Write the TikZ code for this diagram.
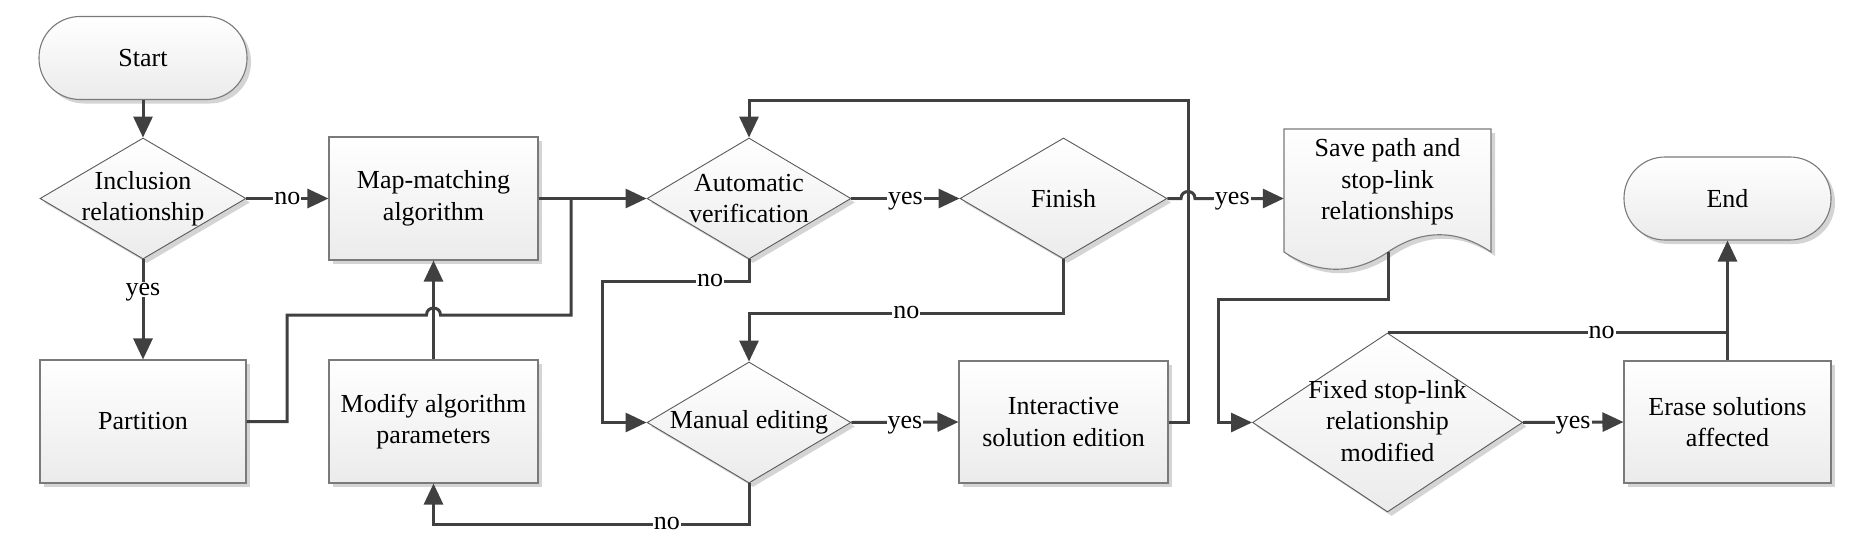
\documentclass[tikz,border=0pt]{standalone}
\usepackage{fontspec}
\setmainfont{Liberation Serif}
\usetikzlibrary{shapes.geometric,arrows.meta,shadows,calc}
\definecolor{lc}{HTML}{404040}
\definecolor{bc}{HTML}{7A7A7A}
\definecolor{dc}{HTML}{5A5A5A}
\definecolor{fillb}{HTML}{EBEBEB}
\definecolor{shc}{HTML}{D4D4D4}
\tikzset{
  conn/.style={draw=lc, line width=3pt},
  arr/.style={conn, -{Triangle[length=21pt,width=19pt]}},
  shd/.style={drop shadow={shadow xshift=4pt,shadow yshift=-4pt,fill=shc,opacity=1}},
  box/.style={rectangle, draw=bc, line width=1.1pt, top color=white, bottom color=fillb, shd, inner sep=0pt},
  term/.style={box, rounded corners=41pt},
  dec/.style={diamond, draw=dc, line width=0.9pt, top color=white, bottom color=fillb, shd, inner sep=0pt},
  txt/.style={align=center, font=\fontsize{26}{31.5}\selectfont, inner sep=0pt},
  lab/.style={fill=white, inner xsep=1pt, inner ysep=2pt, text height=11.5pt, text depth=0pt, font=\fontsize{26}{31.5}\selectfont},
}
\begin{document}
\begin{tikzpicture}[x=1pt,y=-1pt]
\useasboundingbox (0,0) rectangle (1849,551);
% shapes
\node[term, minimum width=208, minimum height=83] (start) at (143,58) {};
\node[txt] (starttxt) at (start) {Start};
\node[dec, minimum width=206, minimum height=121] (incl) at (143,198.5) {};
\node[txt] (incltxt) at (incl) {Inclusion\\relationship};
\node[box, minimum width=209, minimum height=123] (map) at (433.5,198.5) {};
\node[txt] (maptxt) at (map) {Map-matching\\algorithm};
\node[dec, minimum width=204, minimum height=121] (auto) at (749,198.5) {};
\node[txt] (autotxt) at (auto) {Automatic\\verification};
\node[dec, minimum width=207, minimum height=121] (finish) at (1063.5,198.5) {};
\node[txt] (finishtxt) at (finish) {Finish};
\path[draw=bc, line width=1.1pt, top color=white, bottom color=fillb, shd]
  (1284,129) -- (1491,129) -- (1491,252)
  .. controls (1457,229) and (1422,229) .. (1388,252)
  .. controls (1354,275) and (1318,275) .. (1284,252) -- cycle;
\node[minimum width=207, minimum height=123, inner sep=0pt] (save) at (1387.5,190.5) {};
\node[txt] (savetxt) at (1387.5,182) {Save path and\\stop-link\\relationships};
\coordinate (savebot) at (1388,252);
\node[term, minimum width=207, minimum height=83] (end) at (1727.5,198.5) {};
\node[txt] (endtxt) at (end) {End};
\node[box, minimum width=206, minimum height=123] (partition) at (143,421.5) {};
\node[txt] (parttxt) at (partition) {Partition};
\node[box, minimum width=209, minimum height=123] (modify) at (433.5,421.5) {};
\node[txt] (modtxt) at (modify) {Modify algorithm\\parameters};
\node[dec, minimum width=204, minimum height=121] (manual) at (749,422.5) {};
\node[txt] (mantxt) at (manual) {Manual editing};
\node[box, minimum width=209, minimum height=122] (inter) at (1063.5,422) {};
\node[txt] (intertxt) at (inter) {Interactive\\solution edition};
\node[dec, minimum width=270, minimum height=179] (fixed) at (1387.5,422.5) {};
\node[txt] (fixedtxt) at (1387.5,421) {Fixed stop-link\\relationship\\modified};
\node[box, minimum width=207, minimum height=122] (erase) at (1727.5,422) {};
\node[txt] (erasetxt) at (erase) {Erase solutions\\affected};
\coordinate (j1) at (571,198.5);
% connectors
\draw[arr] (start.south) -- (incl.north);
\draw[arr] (incl.east) -- node[lab]{no} (map.west);
\draw[arr] (incl.south) -- node[lab,pos=0.3]{yes} (partition.north);
\draw[arr] (map.east) -- (auto.west);
\draw[conn] (partition.east) -- (287,421.5) -- (287,315) -- (426.5,315)
  .. controls (426.5,305.7) and (440.5,305.7) .. (440.5,315) -- (571,315) -- (j1);
\draw[arr] (modify.north) -- (map.south);
\draw[arr] (auto.south) -- (749,281) -- node[lab,pos=0.265]{no} (602,281) |- (manual.west);
\draw[arr] (auto.east) -- node[lab]{yes} (finish.west);
\draw[arr] (finish.south) -- (1063.5,313) -- node[lab]{no} (749,313) -- (manual.north);
\draw[arr] (manual.east) -- node[lab]{yes} (inter.west);
\draw[arr] (manual.south) -- (749,524) -- node[lab,pos=0.26]{no} (433.5,524) -- (modify.south);
\draw[arr] (inter.east) -- (1188,422) -- (1188,100) -| (auto.north);
\draw[arr] (finish.east) -- (1181,198.5) .. controls (1181,189.2) and (1195,189.2) .. (1195,198.5)
  -- node[lab,pos=0.42]{yes} (finish.east -| save.west);
\draw[arr] (savebot) -- (1388,299) -- (1218,299) |- (fixed.west);
\draw[conn] (fixed.north) -- node[lab,pos=0.63]{no} (erase.north |- fixed.north);
\draw[arr] (fixed.east) -- node[lab]{yes} (erase.west);
\draw[arr] (erase.north) -- (end.south);
\end{tikzpicture}
\end{document}
